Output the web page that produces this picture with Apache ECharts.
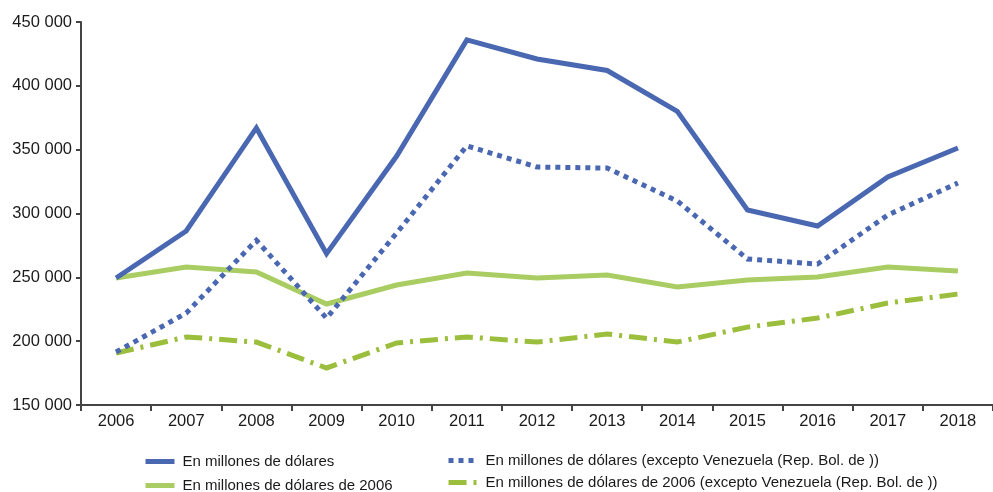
<!DOCTYPE html>
<html>
<head>
<meta charset="utf-8">
<script src="https://cdn.jsdelivr.net/npm/echarts@6/dist/echarts.min.js"></script>
<style>
  html, body { margin: 0; padding: 0; background: #fff; }
  #chart { width: 993px; height: 492px; }
</style>
</head>
<body>
<div id="chart"></div>
<script>
// años
const years = ['2006', '2007', '2008', '2009', '2010', '2011', '2012', '2013', '2014', '2015', '2016', '2017', '2018']

// valores
const usd = [249500, 286300, 367000, 268500, 345000, 436000, 421000, 412000, 380000, 302700, 290200, 328600, 351300]
const usdSinVen = [191500, 222000, 279000, 218000, 284700, 353000, 336400, 335600, 309800, 264400, 260400, 298800, 323900]
const usd2006 = [249500, 258100, 254200, 229100, 244000, 253400, 249500, 251800, 242400, 247900, 250300, 258100, 255000]
const usd2006SinVen = [190700, 203300, 199300, 179000, 198600, 203300, 199300, 205600, 199300, 211000, 218100, 229900, 236900]

const names = [
  'En millones de dólares',
  'En millones de dólares de 2006',
  'En millones de dólares (excepto Venezuela (Rep. Bol. de ))',
  'En millones de dólares de 2006 (excepto Venezuela (Rep. Bol. de ))'
]

const blue = '#4a68b1'
const green = '#a9cd62'
const greenDark = '#9bbe3d'
const textColor = '#1a1a1a'
const font = 'Liberation Sans, Arial, sans-serif'

const chart = echarts.init(document.getElementById('chart'))

function fmt(v) {
  return String(v).replace(/\B(?=(\d{3})+(?!\d))/g, ' ')
}

function lineSeries(name, data, color, type) {
  return {
    name: name,
    type: 'line',
    data: data,
    symbol: 'none',
    smooth: false,
    itemStyle: { color: color },
    lineStyle: { color: color, width: 5, type: type, cap: 'butt', join: 'miter' }
  }
}

// una leyenda por cada serie, para colocarlas en dos columnas
function legendItem(name, left, top) {
  return {
    data: [name],
    left: left,
    top: top,
    padding: 0,
    itemWidth: 29,
    itemHeight: 14,
    itemStyle: { opacity: 0 },
    lineStyle: { width: 5 },
    textStyle: { fontFamily: font, fontSize: 15, color: textColor, padding: [0, 0, 0, 3] }
  }
}

chart.setOption({
  animation: false,
  textStyle: { fontFamily: font },
  grid: { left: 81, right: 0, top: 22, bottom: 87, containLabel: false },
  legend: [
    legendItem(names[0], 143, 454),
    legendItem(names[1], 143, 478),
    legendItem(names[2], 446, 453),
    legendItem(names[3], 446, 475)
  ],
  xAxis: {
    type: 'category',
    data: years,
    boundaryGap: true,
    axisLine: { lineStyle: { color: '#444', width: 2 } },
    axisTick: { show: true, length: 6, lineStyle: { color: '#444', width: 2 } },
    axisLabel: { color: textColor, fontSize: 16.5, fontFamily: font, margin: 8 },
    splitLine: { show: false }
  },
  yAxis: {
    type: 'value',
    min: 150000,
    max: 450000,
    interval: 50000,
    axisLine: { show: true, lineStyle: { color: '#444', width: 2 } },
    axisTick: { show: true, length: 5, lineStyle: { color: '#444', width: 2 } },
    axisLabel: { color: textColor, fontSize: 16.5, fontFamily: font, margin: 9, formatter: fmt },
    splitLine: { show: false }
  },
  series: [
    lineSeries(names[1], usd2006, green, 'solid'),
    lineSeries(names[3], usd2006SinVen, greenDark, [18, 7, 3, 7]),
    lineSeries(names[2], usdSinVen, blue, [5, 5]),
    lineSeries(names[0], usd, blue, 'solid')
  ]
})
</script>
</body>
</html>
